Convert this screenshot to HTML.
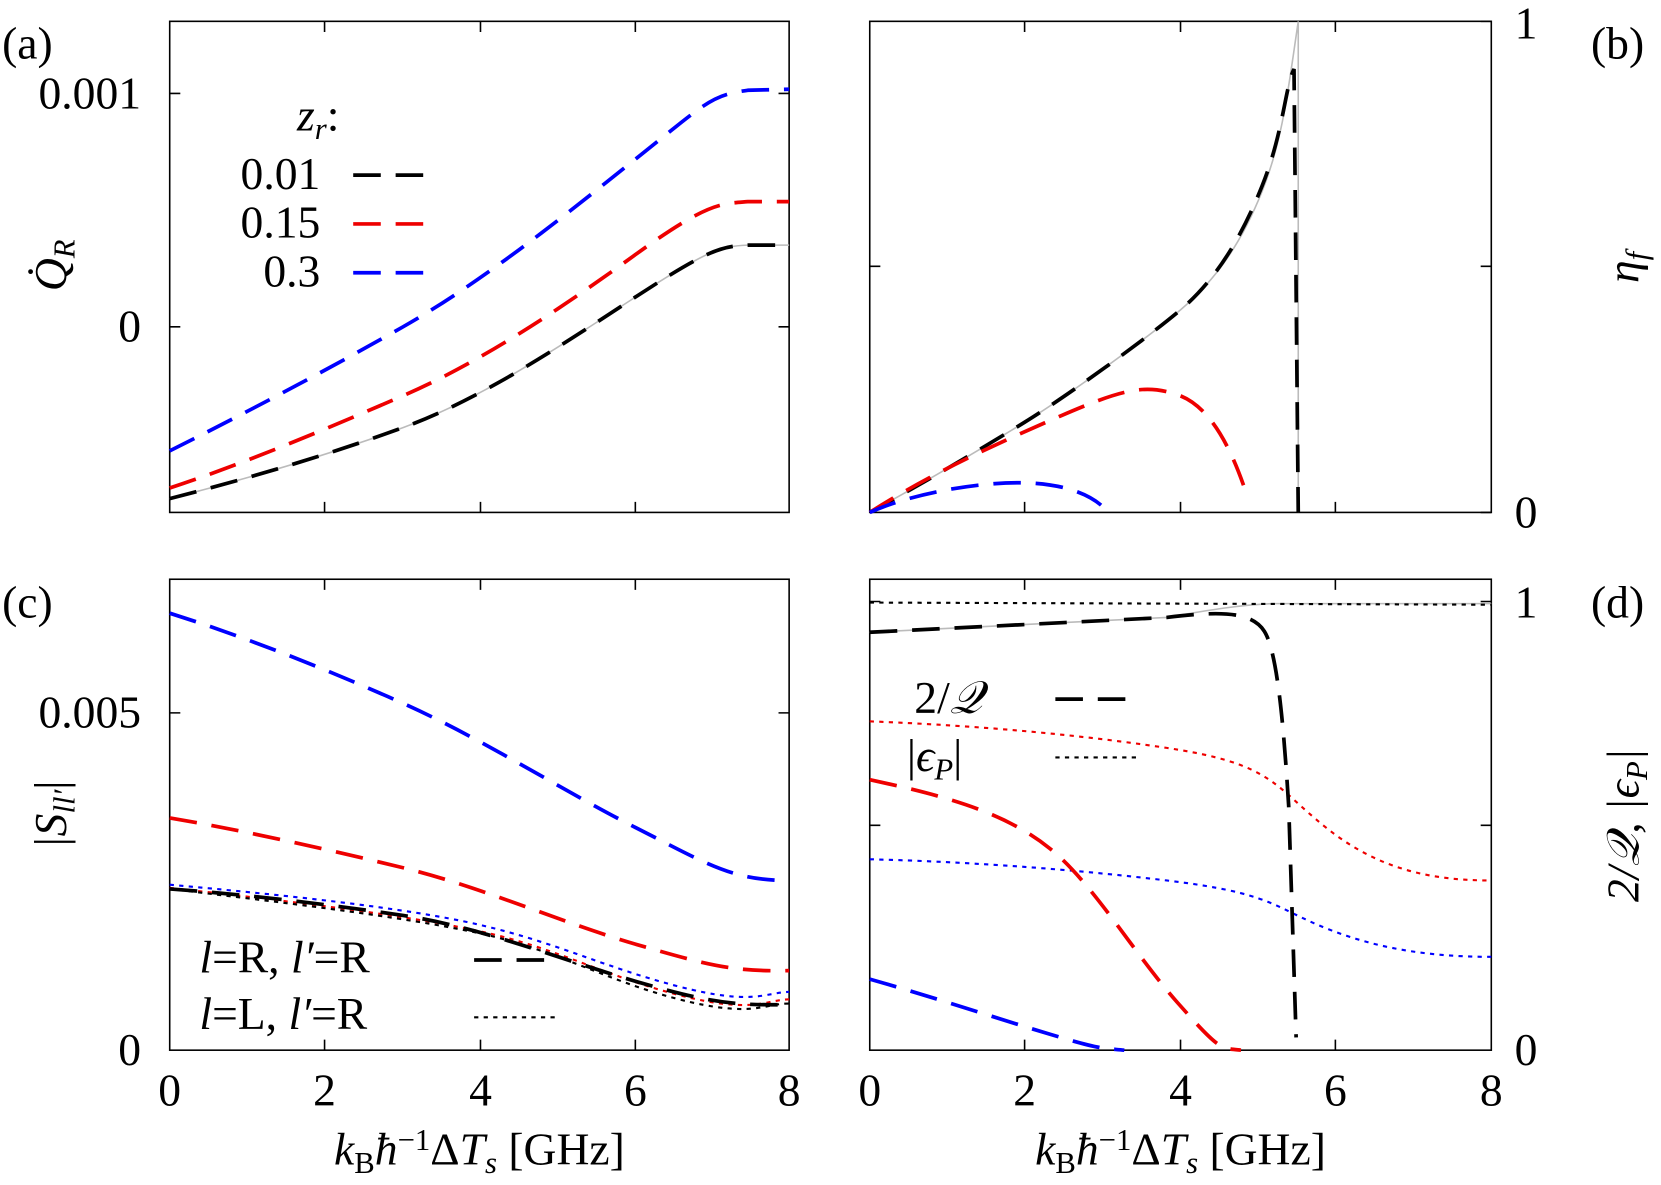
<!DOCTYPE html>
<html><head><meta charset="utf-8"><style>
body{margin:0;background:#fff;overflow:hidden}
svg{display:block}
text{font-family:"Liberation Serif",serif;font-size:43px;fill:#000}
</style></head><body>
<svg width="1661" height="1185" viewBox="0 0 1566 1117" xmlns="http://www.w3.org/2000/svg">
<g fill="none" stroke="#000" stroke-width="1.5">
<rect x="160" y="20" width="584" height="463"/>
<rect x="820" y="20" width="586" height="463"/>
<rect x="160" y="546" width="584" height="444"/>
<rect x="820" y="546" width="586" height="444"/>
<path d="M306,483v-10M453,483v-10M599,483v-10M306,20v10M453,20v10M599,20v10
M966,483v-10M1113,483v-10M1259,483v-10M966,20v10M1113,20v10M1259,20v10
M306,990v-10M453,990v-10M599,990v-10M306,546v10M453,546v10M599,546v10
M966,990v-10M1113,990v-10M1259,990v-10M966,546v10M1113,546v10M1259,546v10
M160,88h10M744,88h-10M160,308h10M744,308h-10
M1406,251h-10M820,251h10M1406,20h-10M1406,483h-10
M160,672h10M744,672h-10M1406,778h-10M820,778h10M1406,567h-10M820,567h10"/>
</g>
<!-- (a) -->
<path d="M160,470 C230,452 306,430 380,403 S530,325 599,280 S680,232 705,231 L744,231" fill="none" stroke="#bbb" stroke-width="1.5"/>
<g fill="none" stroke-width="3.5" stroke-dasharray="26,14">
<path d="M160,470 C230,452 306,430 380,403 S530,325 599,280 S680,232 705,231 L744,231" stroke="#000"/>
<path d="M160,460 C230,437 306,405 380,373 S530,290 599,240 S680,192 705,190 L744,190" stroke="#e00"/>
<path d="M160,425 C230,390 306,350 380,308 S530,205 599,150 S670,90 705,85 L744,84" stroke="#00f"/>
</g>
<text x="280" y="123" font-style="italic">z<tspan font-size="29" dy="8">r</tspan><tspan dy="-8" font-style="normal">:</tspan></text>
<text x="302" y="178" text-anchor="end">0.01</text><text x="302" y="224" text-anchor="end">0.15</text><text x="302" y="270" text-anchor="end">0.3</text>
<g stroke-width="3.5" stroke-dasharray="26,14"><path d="M333,165h80" stroke="#000"/><path d="M333,211h80" stroke="#e00"/><path d="M333,257h80" stroke="#00f"/></g>
<text x="133" y="102" text-anchor="end">0.001</text><text x="133" y="322" text-anchor="end">0</text>
<text x="2" y="55">(a)</text>
<text transform="translate(62,250) rotate(-90)" text-anchor="middle" font-style="italic">Q̇<tspan font-size="29" dy="8">R</tspan></text>
<!-- (b) -->
<path d="M820,483 C880,450 930,420 966,398 S1080,320 1113,292 S1170,230 1190,180 S1215,80 1224,20 L1224,483" fill="none" stroke="#bbb" stroke-width="1.5"/>
<g fill="none" stroke-width="3.5" stroke-dasharray="26,14">
<path d="M820,483 C880,450 930,420 966,398 S1080,320 1113,292 S1170,225 1190,175 S1212,80 1220,65 L1224,483" stroke="#000"/>
<path d="M820,483 C880,445 940,418 1000,392 S1080,362 1110,372 S1160,420 1175,465" stroke="#e00"/>
<path d="M820,483 C860,465 920,455 960,455 S1030,465 1045,483" stroke="#00f"/>
</g>
<text x="1428" y="36">1</text><text x="1428" y="497">0</text>
<text x="1500" y="55">(b)</text>
<text transform="translate(1545,252) rotate(-90)" text-anchor="middle" font-style="italic">η<tspan font-size="29" dy="8">f</tspan></text>
<!-- (c) -->
<g fill="none" stroke-width="2" stroke-dasharray="4,5">
<path d="M160,834 C260,843 380,855 453,872 S570,912 640,930 S720,936 744,935" stroke="#00f"/>
<path d="M160,837 C260,848 380,862 453,878 S570,920 640,938 S720,943 744,942" stroke="#e00"/>
<path d="M160,838 C260,850 380,864 453,880 S570,924 640,942 S720,946 744,946" stroke="#000"/>
</g>
<g fill="none" stroke-width="3.5" stroke-dasharray="26,14">
<path d="M160,578 C230,600 306,630 380,663 S530,745 599,780 S690,830 744,830" stroke="#00f"/>
<path d="M160,771 C230,783 306,800 380,818 S530,870 599,890 S690,916 744,915" stroke="#e00"/>
<path d="M160,838 C230,843 306,852 380,863 S530,905 599,925 S690,948 744,947" stroke="#000"/>
</g>
<text x="188" y="917"><tspan font-style="italic">l</tspan>=R, <tspan font-style="italic">l′</tspan>=R</text>
<text x="188" y="970"><tspan font-style="italic">l</tspan>=L, <tspan font-style="italic">l′</tspan>=R</text>
<path d="M447,905h80" stroke="#000" stroke-width="3.5" stroke-dasharray="26,14"/>
<path d="M447,959h80" stroke="#000" stroke-width="2" stroke-dasharray="4,5"/>
<text x="133" y="686" text-anchor="end">0.005</text><text x="133" y="1004" text-anchor="end">0</text>
<text x="2" y="582">(c)</text>
<text transform="translate(62,768) rotate(-90)" text-anchor="middle" font-style="italic">|S<tspan font-size="29" dy="8">ll′</tspan><tspan dy="-8" font-style="normal">|</tspan></text>
<g text-anchor="middle"><text x="160" y="1042">0</text><text x="306" y="1042">2</text><text x="453" y="1042">4</text><text x="599" y="1042">6</text><text x="744" y="1042">8</text>
<text x="820" y="1042">0</text><text x="966" y="1042">2</text><text x="1113" y="1042">4</text><text x="1259" y="1042">6</text><text x="1406" y="1042">8</text></g>
<text x="452" y="1098" text-anchor="middle"><tspan font-style="italic">k</tspan><tspan font-size="29" dy="8">B</tspan><tspan dy="-8" font-style="italic">ħ</tspan><tspan font-size="29" dy="-14">−1</tspan><tspan dy="14">Δ</tspan><tspan font-style="italic">T</tspan><tspan font-size="29" dy="8" font-style="italic">s</tspan><tspan dy="-8"> [GHz]</tspan></text>
<!-- (d) -->
<path d="M820,596 L1100,582 C1140,575 1170,570 1200,569 L1406,569" fill="none" stroke="#bbb" stroke-width="1.5"/>
<g fill="none" stroke-width="2" stroke-dasharray="4,5">
<path d="M820,568 L1406,570" stroke="#000"/>
<path d="M820,680 C900,683 1000,690 1100,705 S1200,740 1250,780 S1350,830 1406,830" stroke="#e00"/>
<path d="M820,810 C900,812 1000,818 1100,830 S1200,855 1250,875 S1350,902 1406,902" stroke="#00f"/>
</g>
<g fill="none" stroke-width="3.5" stroke-dasharray="26,14">
<path d="M820,596 L1100,582 C1150,576 1180,576 1192,595 S1210,680 1215,760 L1222,978" stroke="#000"/>
<path d="M820,735 C900,752 950,768 990,800 S1070,900 1110,945 S1150,988 1170,990" stroke="#e00"/>
<path d="M820,923 C880,940 940,960 990,975 S1040,988 1060,990" stroke="#00f"/>
</g>
<text x="862" y="672">2/<tspan font-style="italic">𝒬</tspan></text>
<text x="855" y="727">|<tspan font-style="italic">ϵ</tspan><tspan font-size="29" dy="8" font-style="italic">P</tspan><tspan dy="-8">|</tspan></text>
<path d="M995,659h80" stroke="#000" stroke-width="3.5" stroke-dasharray="26,14"/>
<path d="M995,714h80" stroke="#000" stroke-width="2" stroke-dasharray="4,5"/>
<text x="1428" y="582">1</text><text x="1428" y="1004">0</text>
<text x="1500" y="582">(d)</text>
<text transform="translate(1545,778) rotate(-90)" text-anchor="middle" font-style="italic">2/𝒬, |ϵ<tspan font-size="29" dy="8">P</tspan><tspan dy="-8">|</tspan></text>
<text x="1113" y="1098" text-anchor="middle"><tspan font-style="italic">k</tspan><tspan font-size="29" dy="8">B</tspan><tspan dy="-8" font-style="italic">ħ</tspan><tspan font-size="29" dy="-14">−1</tspan><tspan dy="14">Δ</tspan><tspan font-style="italic">T</tspan><tspan font-size="29" dy="8" font-style="italic">s</tspan><tspan dy="-8"> [GHz]</tspan></text>
</svg>
</body></html>
